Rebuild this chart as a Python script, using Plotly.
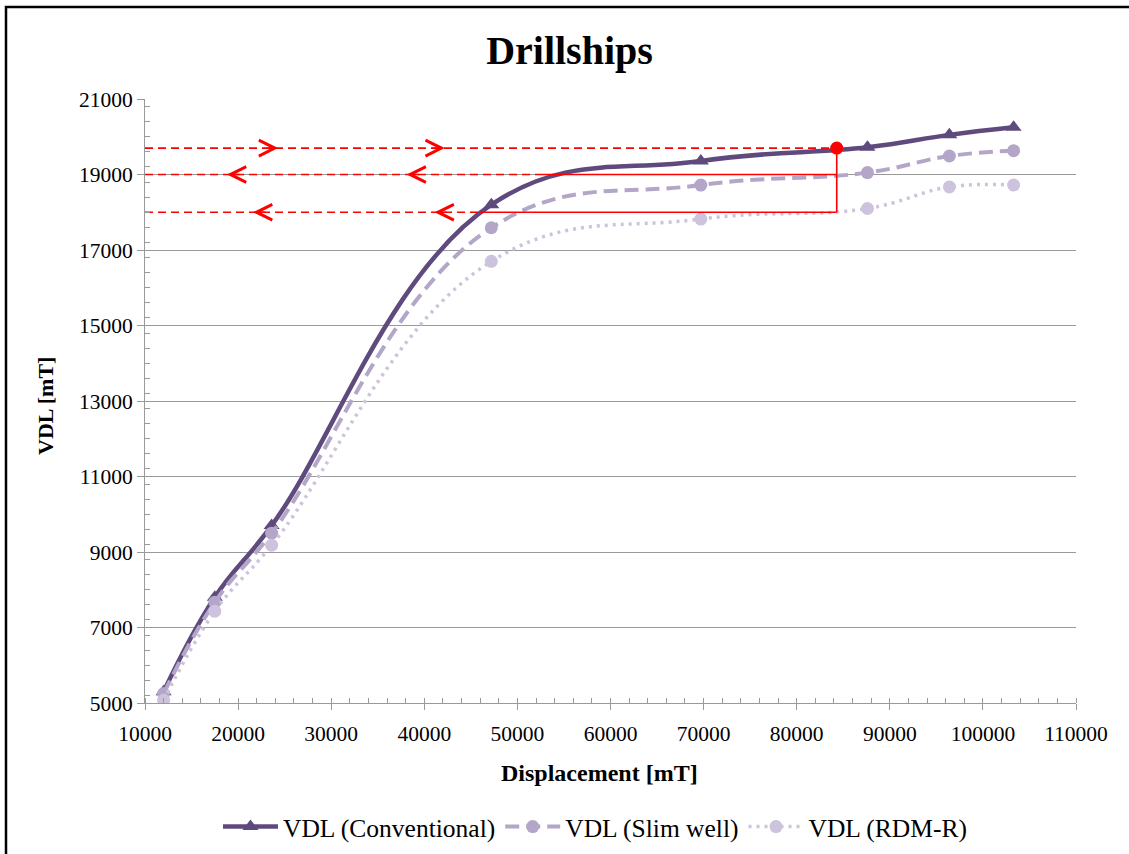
import plotly.graph_objects as go

# ---------------- data ----------------
displacement = [12000, 17500, 23600, 47200, 69700, 87600, 96400, 103300]
vdl_conventional = [5300, 7800, 9700, 18200, 19360, 19720, 20050, 20250]
vdl_slim_well = [5250, 7670, 9500, 17590, 18720, 19050, 19490, 19630]
vdl_rdm_r = [5070, 7430, 9180, 16700, 17820, 18100, 18670, 18720]

series_names = ["VDL (Conventional)", "VDL (Slim well)", "VDL (RDM-R)"]

# red guide lines
red_point_x = 84300
red_levels = [19700, 19000, 18000]
red_cross_x = [84300, 52100, 46000]      # where dashed part ends / solid part starts
right_arrows_x = [24300, 42200]          # on 19700 line
left_arrows_19000_x = [18800, 38100]
left_arrows_18000_x = [21600, 41100]

x_ticks = [10000, 20000, 30000, 40000, 50000, 60000, 70000, 80000, 90000, 100000, 110000]
y_ticks = [5000, 7000, 9000, 11000, 13000, 15000, 17000, 19000, 21000]

# ---------------- layout constants ----------------
W, H = 1129, 854
L, R, T, B = 145, 53, 99, 151
PW, PH = W - L - R, H - T - B
FONT = "Liberation Serif, Times New Roman, serif"

def px_x(px):
    return (px - L) / PW

def px_y(py):
    return (H - B - py) / PH

C_CONV = "#5f4a7d"
C_SLIM = "#b3a6c8"
C_RDM = "#cdc3dc"
RED = "#ff0000"
SMOOTH = 1.2

fig = go.Figure()

fig.add_trace(go.Scatter(
    x=displacement, y=vdl_conventional, name=series_names[0],
    mode="lines+markers", line=dict(color=C_CONV, width=4.5, shape="spline", smoothing=SMOOTH),
    marker=dict(symbol="triangle-up", size=14, color=C_CONV),
))
fig.add_trace(go.Scatter(
    x=displacement, y=vdl_slim_well, name=series_names[1],
    mode="lines+markers", line=dict(color=C_SLIM, width=4, dash="14px,7px", shape="spline", smoothing=SMOOTH),
    marker=dict(symbol="circle", size=13, color=C_SLIM),
))
fig.add_trace(go.Scatter(
    x=displacement, y=vdl_rdm_r, name=series_names[2],
    mode="lines+markers", line=dict(color=C_RDM, width=3.5, dash="3px,5px", shape="spline", smoothing=SMOOTH),
    marker=dict(symbol="circle", size=13, color=C_RDM),
))

# red dashed guide lines (from axis to curve)
x_min = x_ticks[0]
for lvl, xc in zip(red_levels, red_cross_x):
    fig.add_trace(go.Scatter(
        x=[x_min, xc], y=[lvl, lvl], mode="lines", showlegend=False, hoverinfo="skip",
        line=dict(color=RED, width=1.6, dash="8px,5px"),
    ))
# red solid lines (curve to operating point)
for lvl, xc in zip(red_levels[1:], red_cross_x[1:]):
    fig.add_trace(go.Scatter(
        x=[xc, red_point_x], y=[lvl, lvl], mode="lines", showlegend=False, hoverinfo="skip",
        line=dict(color=RED, width=1.6),
    ))
fig.add_trace(go.Scatter(
    x=[red_point_x, red_point_x], y=[red_levels[2], red_levels[0]], mode="lines",
    showlegend=False, hoverinfo="skip", line=dict(color=RED, width=1.6),
))
fig.add_trace(go.Scatter(
    x=[red_point_x], y=[red_levels[0]], mode="markers", showlegend=False, hoverinfo="skip",
    marker=dict(symbol="circle", size=13, color=RED),
))
# dummy trace for overlay axis (inside major ticks)
fig.add_trace(go.Scatter(x=[None], y=[None], xaxis="x2", showlegend=False, hoverinfo="skip"))

annotations = []
arrow_style = dict(showarrow=True, arrowhead=5, arrowsize=2.4, arrowwidth=1.3,
                   arrowcolor=RED, text="", ay=0, xref="x", yref="y")
for xa in right_arrows_x:
    annotations.append(dict(x=xa, y=red_levels[0], ax=-14, **arrow_style))
for xa in left_arrows_19000_x:
    annotations.append(dict(x=xa, y=red_levels[1], ax=14, **arrow_style))
for xa in left_arrows_18000_x:
    annotations.append(dict(x=xa, y=red_levels[2], ax=14, **arrow_style))

# axis titles
annotations.append(dict(text="<b>Displacement [mT]</b>", x=px_x(599), y=px_y(773), xref="paper",
                        yref="paper", showarrow=False, xanchor="center", yanchor="middle",
                        font=dict(family=FONT, size=24, color="black")))
annotations.append(dict(text="<b>VDL [mT]</b>", x=px_x(45), y=px_y(406), xref="paper",
                        yref="paper", showarrow=False, xanchor="center", yanchor="middle",
                        textangle=-90, font=dict(family=FONT, size=22, color="black")))

GRID = "#9a9a9a"

fig.update_layout(
    width=W, height=H,
    margin=dict(l=L, r=R, t=T, b=B, autoexpand=False),
    paper_bgcolor="white", plot_bgcolor="white",
    font=dict(family=FONT, color="black"),
    title=dict(text="<b>Drillships</b>", x=569.5 / W, xref="container", xanchor="center",
               y=1 - 50 / H, yref="container", yanchor="middle",
               font=dict(family=FONT, size=40, color="black")),
    xaxis=dict(range=[x_ticks[0], x_ticks[-1]], tickvals=x_ticks, ticktext=[str(v) for v in x_ticks],
               showgrid=False, zeroline=False, showline=True, linecolor=GRID, linewidth=1,
               ticks="outside", ticklen=6, tickcolor=GRID, ticklabelstandoff=5, automargin=False,
               minor=dict(ticks="inside", dtick=2000, ticklen=5, tickcolor=GRID, showgrid=False),
               tickfont=dict(family=FONT, size=21.5, color="black")),
    xaxis2=dict(range=[x_ticks[0], x_ticks[-1]], overlaying="x", anchor="y", side="bottom",
                tickvals=x_ticks, showticklabels=False, showgrid=False, zeroline=False,
                showline=False, ticks="inside", ticklen=5, tickcolor=GRID, automargin=False),
    yaxis=dict(range=[y_ticks[0], y_ticks[-1]], tickvals=y_ticks, ticktext=[str(v) for v in y_ticks],
               showgrid=True, gridcolor=GRID, gridwidth=1, zeroline=False,
               showline=True, linecolor=GRID, linewidth=1, automargin=False,
               ticks="outside", ticklen=7, tickcolor=GRID,
               minor=dict(ticks="inside", dtick=400, ticklen=5, tickcolor=GRID, showgrid=False),
               tickfont=dict(family=FONT, size=21.5, color="black")),
    legend=dict(orientation="h", x=595 / W, xref="container", xanchor="center",
                y=(H - 827) / H, yref="container", yanchor="middle",
                font=dict(family=FONT, size=25.5, color="black"), bgcolor="rgba(0,0,0,0)",
                itemwidth=55),
    annotations=annotations,
    shapes=[dict(type="rect", xref="paper", yref="paper",
                 x0=px_x(6), x1=px_x(1145), y0=px_y(870), y1=px_y(7),
                 line=dict(color="black", width=2.5), fillcolor="rgba(0,0,0,0)", layer="above")],
    showlegend=True,
)

fig.write_html("out.html")
